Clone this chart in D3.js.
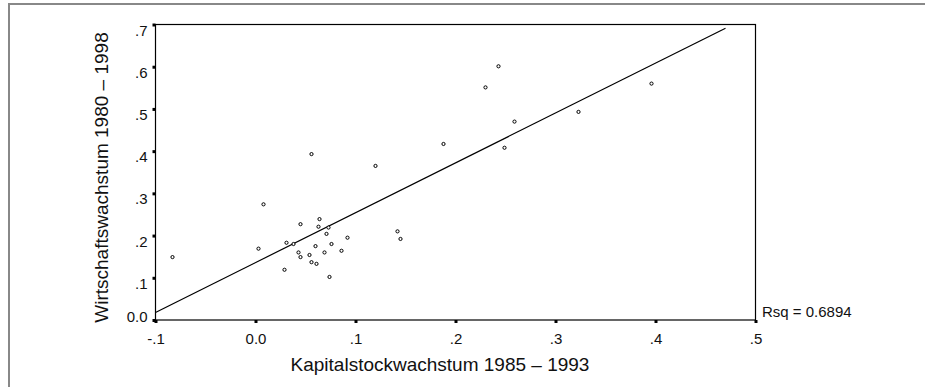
<!DOCTYPE html>
<html lang="de">
  <head>
    <meta charset="utf-8">
    <title>Kapitalstock und Wirtschaftswachstum</title>
    <style type="text/css">
body {
  margin: 0;
  background: #fff;
}

svg {
  font-family: "Liberation Sans", Arial, sans-serif;
  display: block;
}

.axis path {
  display: none;
}

.axis line {
  stroke: #000;
  stroke-width: 3px;
}

.axis text {
  font-size: 15px;
  fill: #111;
}

.title {
  font-size: 19px;
  fill: #111;
}

.dot {
  fill: #fff;
  stroke: #000;
  stroke-width: 1px;
}
    </style>
  </head>
  <body>
    <div id="mainCanvas"></div>

    <script src="https://cdn.jsdelivr.net/npm/d3@7/dist/d3.min.js"></script>
    <script>
      // Kapitalstockwachstum 1985-1993 (x) und Wirtschaftswachstum 1980-1998 (y), je Land
      var kapital = [-0.083, 0.003, 0.008, 0.029, 0.031, 0.038, 0.043, 0.045, 0.045, 0.054, 0.056,
                     0.056, 0.060, 0.061, 0.063, 0.064, 0.069, 0.071, 0.073, 0.074, 0.076, 0.086,
                     0.092, 0.120, 0.142, 0.145, 0.188, 0.230, 0.243, 0.249, 0.259, 0.323, 0.396];
      var wachstum = [0.149, 0.169, 0.274, 0.119, 0.183, 0.180, 0.160, 0.227, 0.149, 0.154, 0.393,
                      0.137, 0.175, 0.133, 0.221, 0.239, 0.160, 0.204, 0.219, 0.102, 0.180, 0.164,
                      0.195, 0.365, 0.210, 0.192, 0.417, 0.551, 0.601, 0.408, 0.470, 0.493, 0.560];

      // Regressionsgerade (wie im Original eingezeichnet)
      var fitIntercept = 0.136;
      var fitSlope = 1.181;
      var fitRange = [-0.1, 0.47];
      var rsqLabel = "Rsq = 0.6894";

      var xTicks = [-0.1, 0, 0.1, 0.2, 0.3, 0.4, 0.5];
      var xTickLabels = ["-.1", "0.0", ".1", ".2", ".3", ".4", ".5"];
      var yTicks = [0, 0.1, 0.2, 0.3, 0.4, 0.5, 0.6, 0.7];
      var yTickLabels = ["0.0", ".1", ".2", ".3", ".4", ".5", ".6", ".7"];

      var xTitle = "Kapitalstockwachstum 1985 \u2013 1993";
      var yTitle = "Wirtschaftswachstum 1980 \u2013 1998";

      var W = 925, H = 387;
      var plot = {left: 155.5, right: 755.5, top: 24.5, bottom: 320};

      var data = kapital.map(function(d, i) { return {x: d, y: wachstum[i]}; });

      var x = d3.scaleLinear().domain([-0.1, 0.5]).range([plot.left, plot.right]);
      var y = d3.scaleLinear().domain([0, 0.7]).range([plot.bottom, plot.top]);

      var svg = d3.select("#mainCanvas").append("svg")
          .attr("width", W)
          .attr("height", H);

      // aeusserer Rahmen (nur oben und links sichtbar)
      svg.append("line")
          .attr("x1", 8).attr("x2", W)
          .attr("y1", 4).attr("y2", 4)
          .attr("stroke", "#888").attr("stroke-width", 2);
      svg.append("line")
          .attr("x1", 9).attr("x2", 9)
          .attr("y1", 3).attr("y2", H)
          .attr("stroke", "#888").attr("stroke-width", 2);

      var xAxis = d3.axisBottom(x)
          .tickValues(xTicks)
          .tickSize(3)
          .tickPadding(10)
          .tickFormat(function(d, i) { return xTickLabels[i]; });

      var yAxis = d3.axisLeft(y)
          .tickValues(yTicks)
          .tickSize(3)
          .tickPadding(5)
          .tickFormat(function(d, i) { return yTickLabels[i]; });

      svg.append("g")
          .attr("class", "x axis")
          .attr("transform", "translate(0," + plot.bottom + ")")
          .call(xAxis)
        .selectAll("text")
          .attr("dy", "0.71em");

      svg.append("g")
          .attr("class", "y axis")
          .attr("transform", "translate(" + plot.left + ",0)")
          .call(yAxis)
        .selectAll("text")
          .attr("dy", function(d) { return d === 0 ? 1.5 : 10.5; });

      // Plotrahmen
      svg.append("rect")
          .attr("x", plot.left)
          .attr("y", plot.top)
          .attr("width", plot.right - plot.left)
          .attr("height", plot.bottom - plot.top)
          .attr("fill", "none")
          .attr("stroke", "#000")
          .attr("stroke-width", 1.2);

      // Regressionsgerade
      svg.append("line")
          .attr("x1", x(fitRange[0]))
          .attr("y1", y(fitIntercept + fitSlope * fitRange[0]))
          .attr("x2", x(fitRange[1]))
          .attr("y2", y(fitIntercept + fitSlope * fitRange[1]))
          .attr("stroke", "#000")
          .attr("stroke-width", 1.2);

      svg.append("g").selectAll("circle")
        .data(data)
        .enter()
        .append("circle")
          .attr("class", "dot")
          .attr("cx", function(d) { return x(d.x); })
          .attr("cy", function(d) { return y(d.y); })
          .attr("r", 1.6);

      svg.append("text")
          .attr("class", "title")
          .attr("x", 762)
          .attr("y", 317)
          .style("font-size", "15px")
          .text(rsqLabel);

      svg.append("text")
          .attr("class", "title")
          .attr("text-anchor", "middle")
          .attr("x", 440)
          .attr("y", 370.5)
          .text(xTitle);

      svg.append("text")
          .attr("class", "title")
          .attr("text-anchor", "middle")
          .attr("transform", "translate(108,177.5)rotate(-90)")
          .text(yTitle);
    </script>
  </body>
</html>
